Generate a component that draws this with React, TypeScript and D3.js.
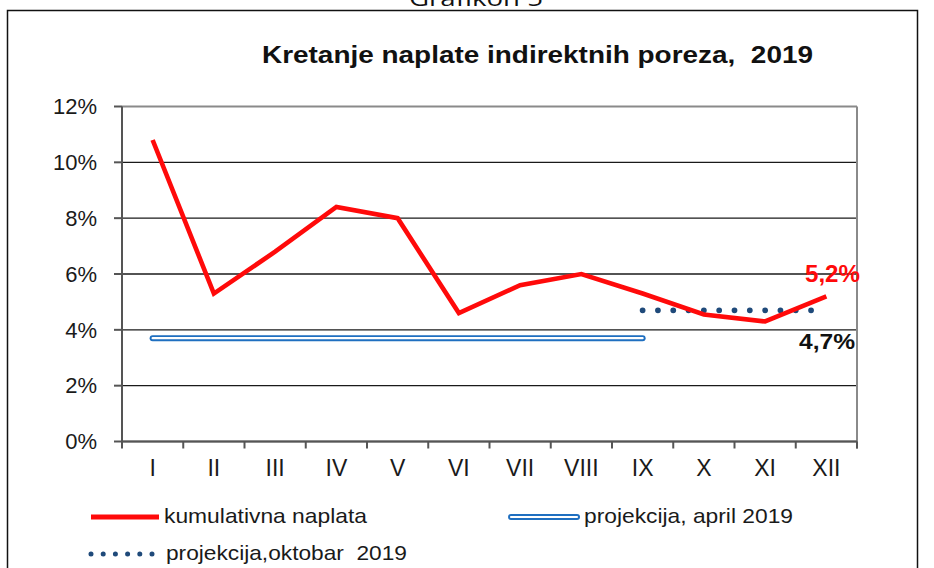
import React from "react";
import * as d3 from "d3";

const months = ["I", "II", "III", "IV", "V", "VI", "VII", "VIII", "IX", "X", "XI", "XII"];
const naplata = [10.8, 5.3, 6.8, 8.4, 8.0, 4.6, 5.6, 6.0, 5.3, 4.55, 4.3, 5.2];
const april2019: (number | null)[] = [3.7, 3.7, 3.7, 3.7, 3.7, 3.7, 3.7, 3.7, 3.7, null, null, null];
const oktobar2019: (number | null)[] = [null, null, null, null, null, null, null, null, 4.7, 4.7, 4.7, 4.7];
const yTicks = [0, 2, 4, 6, 8, 10, 12];
const title = "Kretanje naplate indirektnih poreza,  2019";
const header = "Grafikon 5";
const legendNames = ["kumulativna naplata", "projekcija, april 2019", "projekcija,oktobar  2019"];
const endLabelRed = "5,2%";
const endLabelBlack = "4,7%";

const W = 934;
const H = 568;
const FONT = "'Liberation Sans', Arial, sans-serif";

export default function App() {
  const left = 122, right = 857, top = 106.5, bottom = 441.5;
  const x = d3.scaleBand<string>().domain(months).range([left, right]).padding(0);
  const y = d3.scaleLinear().domain([0, 12]).range([bottom, top]);
  const cx = (m: string) => (x(m) as number) + x.bandwidth() / 2;

  const lineGen = d3
    .line<number | null>()
    .defined((d) => d !== null)
    .x((_, i) => cx(months[i]))
    .y((d) => y(d as number));

  const redPath = lineGen(naplata) as string;
  const bluePath = lineGen(april2019) as string;
  const dotPath = lineGen(oktobar2019) as string;
  const dotGap = x.bandwidth() / 4;

  const red = "#ff0a0a";
  const blue = "#1f6fc0";
  const navy = "#1f4a7a";

  return (
    <svg
      width={W}
      height={H}
      style={{ position: "absolute", left: 0, top: 0, background: "#fff" }}
      fontFamily={FONT}
    >
      <rect x={0} y={0} width={W} height={H} fill="#fff" />
      {/* header (cut off at the top edge, as in the reference) */}
      <text
        x={409}
        y={6}
        fontFamily="'Open Sans', sans-serif"
        fontSize={22}
        fill="#111"
        textLength={134}
        lengthAdjust="spacingAndGlyphs"
      >
        {header}
      </text>
      {/* frame */}
      <rect x={7.5} y={10.5} width={910} height={600} fill="none" stroke="#111" strokeWidth={1.5} />
      {/* title */}
      <text
        x={262}
        y={63}
        fontSize={23}
        fontWeight="bold"
        fill="#111"
        textLength={551}
        lengthAdjust="spacingAndGlyphs"
        style={{ whiteSpace: "pre" }}
      >
        {title}
      </text>

      {/* gridlines */}
      {yTicks.map((t) => (
        <line
          key={"g" + t}
          x1={left}
          x2={right}
          y1={y(t)}
          y2={y(t)}
          stroke={t === 12 ? "#8a8a8a" : "#1a1a1a"}
          strokeWidth={t === 12 ? 2 : 1.4}
        />
      ))}
      {/* right border */}
      <line x1={right} x2={right} y1={top} y2={bottom + 7} stroke="#8a8a8a" strokeWidth={2} />

      {/* y axis */}
      <line x1={left} x2={left} y1={top} y2={bottom + 7} stroke="#555" strokeWidth={2} />
      {yTicks.map((t) => (
        <g key={"yt" + t}>
          <line x1={left - 8} x2={left} y1={y(t)} y2={y(t)} stroke="#555" strokeWidth={2} />
          <text x={97} y={y(t)} dy="0.35em" textAnchor="end" fontSize={22} fill="#1a1a1a">
            {t + "%"}
          </text>
        </g>
      ))}

      {/* x axis */}
      <line x1={left} x2={right} y1={bottom} y2={bottom} stroke="#555" strokeWidth={2} />
      {months.map((m) => (
        <line
          key={"xt" + m}
          x1={(x(m) as number) + x.bandwidth()}
          x2={(x(m) as number) + x.bandwidth()}
          y1={bottom}
          y2={bottom + 7}
          stroke="#555"
          strokeWidth={2}
        />
      ))}
      {months.map((m) => (
        <text key={"xl" + m} x={cx(m)} y={476} textAnchor="middle" fontSize={23} fill="#1a1a1a">
          {m}
        </text>
      ))}

      {/* projekcija april: double line */}
      <path d={bluePath} fill="none" stroke={blue} strokeWidth={6} strokeLinecap="round" />
      <path d={bluePath} fill="none" stroke="#fff" strokeWidth={2.2} strokeLinecap="round" />

      {/* projekcija oktobar: dots */}
      <path
        d={dotPath}
        fill="none"
        stroke={navy}
        strokeWidth={5.8}
        strokeLinecap="round"
        strokeDasharray={`0 ${dotGap}`}
      />

      {/* kumulativna naplata */}
      <path d={redPath} fill="none" stroke={red} strokeWidth={4.6} strokeLinejoin="miter" strokeLinecap="butt" />

      {/* end labels */}
      <text x={805} y={282} fontSize={23} fontWeight="bold" fill={red} textLength={55} lengthAdjust="spacingAndGlyphs">
        {endLabelRed}
      </text>
      <text x={799} y={348.5} fontSize={22} fontWeight="bold" fill="#111" textLength={56} lengthAdjust="spacingAndGlyphs">
        {endLabelBlack}
      </text>

      {/* legend */}
      <line x1={91} x2={159} y1={517} y2={517} stroke={red} strokeWidth={5} />
      <text x={164} y={523} fontSize={21} fill="#1a1a1a" textLength={203} lengthAdjust="spacingAndGlyphs">
        {legendNames[0]}
      </text>

      <line x1={511} x2={577} y1={517} y2={517} stroke={blue} strokeWidth={6} strokeLinecap="round" />
      <line x1={511} x2={577} y1={517} y2={517} stroke="#fff" strokeWidth={2.2} strokeLinecap="round" />
      <text x={584} y={523} fontSize={21} fill="#1a1a1a" textLength={209} lengthAdjust="spacingAndGlyphs">
        {legendNames[1]}
      </text>

      <line
        x1={91}
        x2={152}
        y1={554}
        y2={554}
        stroke={navy}
        strokeWidth={5}
        strokeLinecap="round"
        strokeDasharray="0 12.2"
      />
      <text
        x={166}
        y={560}
        fontSize={21}
        fill="#1a1a1a"
        textLength={241}
        lengthAdjust="spacingAndGlyphs"
        style={{ whiteSpace: "pre" }}
      >
        {legendNames[2]}
      </text>
    </svg>
  );
}
